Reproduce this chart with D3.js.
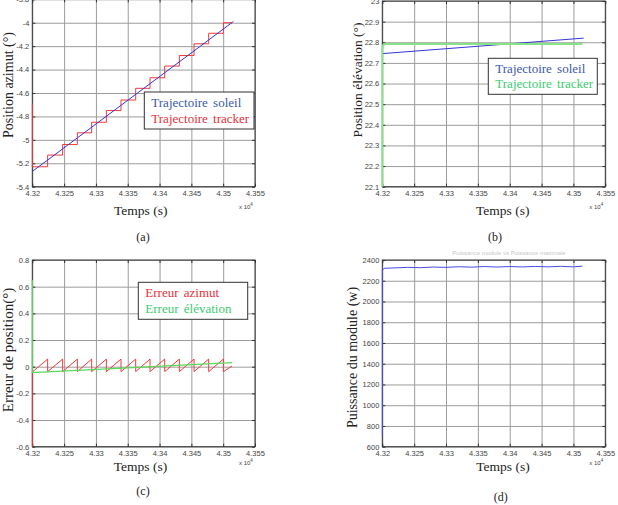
<!DOCTYPE html>
<html><head><meta charset="utf-8">
<script src="https://cdn.jsdelivr.net/npm/d3@7/dist/d3.min.js"></script>
<style>body{margin:0;background:#fff}svg{display:block}</style>
</head><body>
<svg id="c" width="618" height="505"></svg>
<script>
// ---- data ----
const xTicks = [4.32, 4.325, 4.33, 4.335, 4.34, 4.345, 4.35, 4.355];
const xTickLabels = ["4.32", "4.325", "4.33", "4.335", "4.34", "4.345", "4.35", "4.355"];
const azTicks = [-5.4, -5.2, -5, -4.8, -4.6, -4.4, -4.2, -4, -3.8];
const azTickLabels = ["-5.4", "-5.2", "-5", "-4.8", "-4.6", "-4.4", "-4.2", "-4", "-3.8"];
const elTicks = [22.1, 22.2, 22.3, 22.4, 22.5, 22.6, 22.7, 22.8, 22.9, 23];
const elTickLabels = ["22.1", "22.2", "22.3", "22.4", "22.5", "22.6", "22.7", "22.8", "22.9", "23"];
const errTicks = [-0.6, -0.4, -0.2, 0, 0.2, 0.4, 0.6, 0.8];
const errTickLabels = ["-0.6", "-0.4", "-0.2", "0", "0.2", "0.4", "0.6", "0.8"];
const powTicks = [600, 800, 1000, 1200, 1400, 1600, 1800, 2000, 2200, 2400];
const powTickLabels = ["600", "800", "1000", "1200", "1400", "1600", "1800", "2000", "2200", "2400"];

// (a) azimuth
const sunAzT = [4.32, 4.3516];
const sunAzV = [-5.27, -3.99];
const trackAzT = [4.32, 4.32, 4.32241, 4.32477, 4.32708, 4.32933, 4.33164, 4.33394, 4.33625, 4.33850, 4.34081, 4.34311, 4.34542, 4.34772, 4.35003, 4.3514];
const trackAzV = [-4.69, -5.23, -5.13, -5.04, -4.94, -4.85, -4.75, -4.66, -4.56, -4.47, -4.37, -4.28, -4.18, -4.09, -4.0, -4.0];

// (b) elevation
const sunElT = [4.32, 4.3516];
const sunElV = [22.745, 22.82];
const trackElT = [4.32, 4.32, 4.3201, 4.3204, 4.3514];
const trackElV = [22.1, 22.77, 22.785, 22.792, 22.792];

// (c) errors
const errAzT = [4.32, 4.32, 4.32241, 4.32241, 4.32477, 4.32477, 4.32708, 4.32708, 4.32933, 4.32933, 4.33164, 4.33164, 4.33394, 4.33394, 4.33625, 4.33625, 4.33850, 4.33850, 4.34081, 4.34081, 4.34311, 4.34311, 4.34542, 4.34542, 4.34772, 4.34772, 4.35003, 4.35003, 4.3514];
const errAzV = [-0.6, -0.04, 0.057, -0.037, 0.057, -0.037, 0.057, -0.037, 0.057, -0.037, 0.057, -0.037, 0.057, -0.037, 0.057, -0.037, 0.057, -0.037, 0.057, -0.037, 0.057, -0.037, 0.057, -0.037, 0.057, -0.037, 0.057, -0.037, 0.005];
const errElT = [4.32, 4.32, 4.3514];
const errElV = [0.65, -0.045, 0.03];

// (d) power
const powT = [4.32, 4.32, 4.3203, 4.322, 4.324, 4.326, 4.328, 4.330, 4.332, 4.334, 4.336, 4.338, 4.340, 4.342, 4.344, 4.346, 4.348, 4.350, 4.3514];
const powV = [700, 2300, 2320, 2324, 2329, 2326, 2332, 2329, 2335, 2331, 2337, 2332, 2337, 2333, 2338, 2334, 2339, 2334, 2341];

// ---- drawing ----
const svg = d3.select("#c");
const SERIF = "'Liberation Serif','Times New Roman',serif";
const SANS = "'Liberation Sans',Arial,sans-serif";

function zip(t, v) { return t.map((d, i) => [d, v[i]]); }

function panel(o) {
  const g = svg.append("g");
  const x = d3.scaleLinear().domain([4.32, 4.355]).range([o.x0, o.x1]);
  const y = d3.scaleLinear().domain(o.yDomain).range([o.yBot, o.yTop]);
  const h = o.yBot - o.yTop, w = o.x1 - o.x0;

  const gx = g.append("g").attr("transform", `translate(0,${o.yBot})`)
    .call(d3.axisBottom(x).tickValues(xTicks).tickSize(-h).tickPadding(3)
      .tickFormat((d, i) => xTickLabels[i]));
  const gy = g.append("g").attr("transform", `translate(${o.x0},0)`)
    .call(d3.axisLeft(y).tickValues(o.yTicks).tickSize(-w).tickPadding(3)
      .tickFormat((d, i) => o.yLabels[i]));
  [gx, gy].forEach(a => {
    a.select(".domain").remove();
    a.selectAll(".tick line").attr("stroke", "#9c9c9c").attr("stroke-width", 1);
    a.selectAll(".tick text").attr("fill", "#444").style("font-family", SANS).style("font-size", "7.5px");
  });
  gx.selectAll(".tick text").attr("dy", "0.85em");
  const tk = g.append("g");
  tk.append("g").attr("transform", `translate(0,${o.yBot})`).call(d3.axisBottom(x).tickValues(xTicks).tickSize(-3).tickFormat(""));
  tk.append("g").attr("transform", `translate(0,${o.yTop})`).call(d3.axisTop(x).tickValues(xTicks).tickSize(-3).tickFormat(""));
  tk.append("g").attr("transform", `translate(${o.x0},0)`).call(d3.axisLeft(y).tickValues(o.yTicks).tickSize(-3).tickFormat(""));
  tk.append("g").attr("transform", `translate(${o.x1},0)`).call(d3.axisRight(y).tickValues(o.yTicks).tickSize(-3).tickFormat(""));
  tk.selectAll(".domain").remove();
  tk.selectAll("line").attr("stroke", "#333");

  g.append("rect").attr("x", o.x0).attr("y", o.yTop).attr("width", w).attr("height", h)
    .attr("fill", "none").attr("stroke", "#333").attr("stroke-width", 1);

  const clipId = "clip" + o.id;
  svg.append("clipPath").attr("id", clipId).append("rect")
    .attr("x", o.x0 - 1).attr("y", o.yTop).attr("width", w + 2).attr("height", h + 1);
  const sg = g.append("g").attr("clip-path", `url(#${clipId})`);
  o.series.forEach(s => {
    const line = d3.line().x(d => x(d[0])).y(d => y(d[1])).curve(s.curve || d3.curveLinear);
    sg.append("path").datum(zip(s.t, s.v)).attr("d", line)
      .attr("fill", "none").attr("stroke", s.color).attr("stroke-width", s.width || 1)
      .attr("stroke-linejoin", "round");
  });

  g.append("text").attr("x", o.xlab[0]).attr("y", o.xlab[1]).attr("text-anchor", "middle")
    .style("font-family", SERIF).style("font-size", "13.5px").attr("fill", "#222").text("Temps (s)");
  const xt = g.append("text").attr("x", o.x1 - 16).attr("y", o.xlab[1] - 6)
    .style("font-family", SANS).style("font-size", "6px").attr("fill", "#444");
  xt.append("tspan").text("x 10");
  xt.append("tspan").attr("dy", -3).style("font-size", "4.5px").text("4");
  g.append("text").attr("transform", `translate(${o.ylab[0]},${o.ylab[1]}) rotate(-90)`)
    .attr("text-anchor", "middle").attr("dominant-baseline", "central")
    .style("font-family", SERIF).style("font-size", o.ylabSize + "px").attr("fill", "#222").text(o.ylabText);
  g.append("text").attr("x", o.sub[0]).attr("y", o.sub[1]).attr("text-anchor", "middle")
    .style("font-family", SERIF).style("font-size", "12px").attr("fill", "#222").text(o.subText);

  if (o.legend) {
    const L = o.legend;
    g.append("rect").attr("x", L.x).attr("y", L.y).attr("width", L.w).attr("height", L.h)
      .attr("fill", "#fff").attr("stroke", "#333").attr("stroke-width", 1);
    L.items.forEach((it, i) => {
      g.append("text").attr("x", L.x + 7).attr("y", L.y + L.first + i * L.step)
        .style("font-family", SERIF).style("font-size", "13px").style("word-spacing", "2px")
        .attr("fill", it.color).text(it.text);
    });
  }
  return { x, y };
}

const BLUE = "#3535d8", RED = "#f03a3a";

panel({
  id: "a", x0: 32.3, x1: 255, yTop: -0.7, yBot: 186.7, yDomain: [-5.4, -3.8],
  yTicks: azTicks, yLabels: azTickLabels,
  series: [
    { t: trackAzT, v: trackAzV, color: RED, curve: d3.curveStepAfter },
    { t: sunAzT, v: sunAzV, color: BLUE }
  ],
  xlab: [140.7, 215], ylab: [8, 85], ylabSize: 14, ylabText: "Position azimut (°)",
  sub: [143, 241], subText: "(a)",
  legend: { x: 144.3, y: 92, w: 109.7, h: 37, first: 15, step: 15.5,
    items: [{ text: "Trajectoire soleil", color: "#3a5aa8" }, { text: "Trajectoire tracker", color: "#e8303c" }] }
});

panel({
  id: "b", x0: 382.3, x1: 605.3, yTop: 1, yBot: 186.7, yDomain: [22.1, 23],
  yTicks: elTicks, yLabels: elTickLabels,
  series: [
    { t: sunElT, v: sunElV, color: BLUE },
    { t: trackElT, v: trackElV, color: "#86e486", width: 2 }
  ],
  xlab: [502.7, 215], ylab: [357.5, 80], ylabSize: 13.5, ylabText: "Position élévation (°)",
  sub: [495, 241], subText: "(b)",
  legend: { x: 488.3, y: 58.3, w: 109, h: 36, first: 15, step: 15,
    items: [{ text: "Trajectoire soleil", color: "#3a5aa8" }, { text: "Trajectoire tracker", color: "#3ccc70" }] }
});

panel({
  id: "c", x0: 32.3, x1: 255, yTop: 260, yBot: 446.7, yDomain: [-0.6, 0.8],
  yTicks: errTicks, yLabels: errTickLabels,
  series: [
    { t: errAzT, v: errAzV, color: RED },
    { t: errElT, v: errElV, color: "#5ad85a", width: 1.3 }
  ],
  xlab: [140.5, 471], ylab: [8, 350], ylabSize: 15, ylabText: "Erreur de position(°)",
  sub: [143, 495], subText: "(c)",
  legend: { x: 138.3, y: 282.3, w: 109.4, h: 37, first: 15, step: 15.5,
    items: [{ text: "Erreur azimut", color: "#e8303c" }, { text: "Erreur élévation", color: "#3ccc70" }] }
});

panel({
  id: "d", x0: 382.3, x1: 605.3, yTop: 260, yBot: 446.7, yDomain: [600, 2400],
  yTicks: powTicks, yLabels: powTickLabels,
  series: [
    { t: powT, v: powV, color: "#4a4ae0" }
  ],
  xlab: [503, 471], ylab: [352.5, 357.5], ylabSize: 14, ylabText: "Puissance du module (w)",
  sub: [500.7, 501], subText: "(d)"
});

svg.append("text").attr("x", 509).attr("y", 255).attr("text-anchor", "middle")
  .style("font-family", SANS).style("font-size", "6px").attr("fill", "#c8c8c8")
  .text("Puissance module vs Puissance maximale");
</script>
</body></html>
